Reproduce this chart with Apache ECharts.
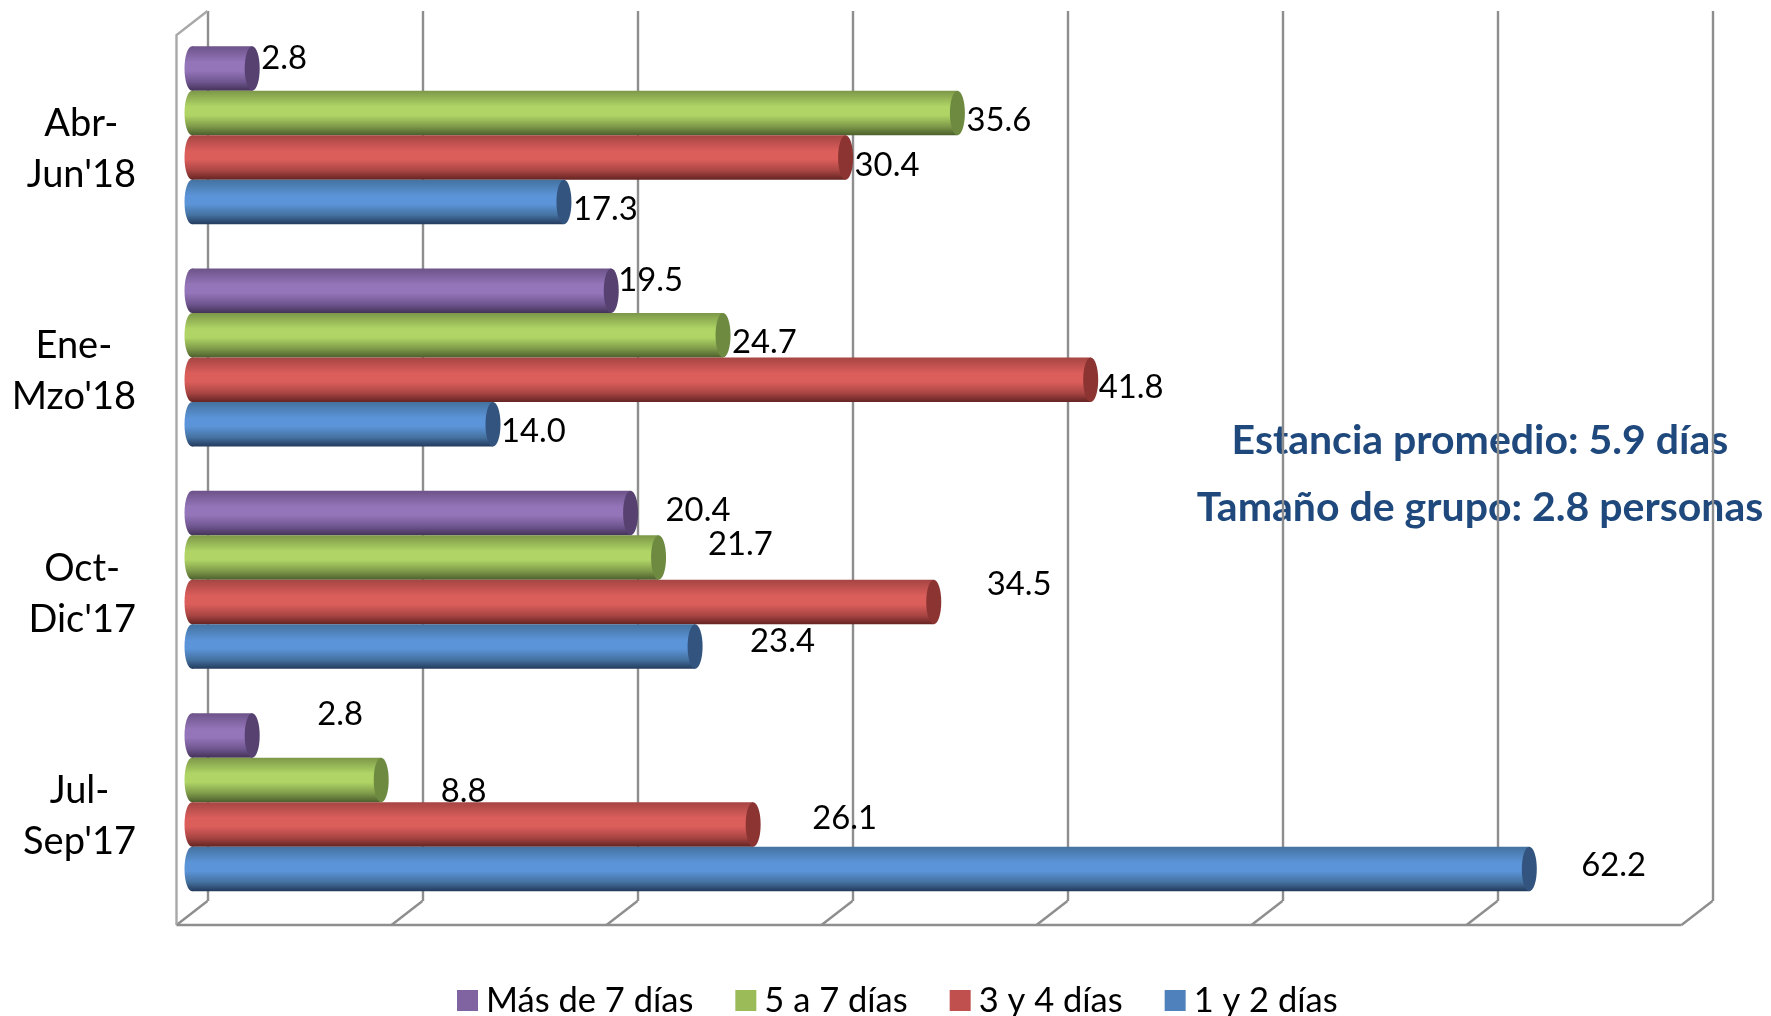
<!DOCTYPE html>
<html><head><meta charset="utf-8">
<style>html,body{margin:0;padding:0;background:#fff}#c{width:1771px;height:1016px}</style>
<script src="https://cdn.jsdelivr.net/npm/echarts@6/dist/echarts.min.js"></script>
</head><body><div id="c"></div>
<script>
const categories = ["Jul-\nSep'17", "Oct-\nDic'17", "Ene-\nMzo'18", "Abr-\nJun'18"];
const seriesNames = ["1 y 2 días", "3 y 4 días", "5 a 7 días", "Más de 7 días"];
const unoY2 = [62.2, 23.4, 14.0, 17.3];
const tresY4 = [26.1, 34.5, 41.8, 30.4];
const cincoA7 = [8.8, 21.7, 24.7, 35.6];
const masDe7 = [2.8, 20.4, 19.5, 2.8];
const tickValues = [0, 10, 20, 30, 40, 50, 60, 70];
const notes = ["Estancia promedio: 5.9 días", "Tamaño de grupo: 2.8 personas"];

// Manual data-label displacement, in pixels [dx, dy], as placed in the source chart
const shiftUno = [[52,-3],[55,-5],[8,7],[9,8]];
const shiftTres = [[59,-6],[53,-18],[8,8],[9,8]];
const shiftCinco = [[59.5,12],[49.5,-13],[9,7],[9,8]];
const shiftMas = [[65,-21],[35,-3],[7,-10],[9,-9.5]];

const FONT = 'Lato';
const BAR = 44.5, RX = 7.5;
const palette = [
  {legend:'#4f81bd', top:'#44729f', mid:'#5b94d8', low:'#44719f', bottom:'#233a5c', cap:'#32547f'},
  {legend:'#c0504d', top:'#a54543', mid:'#db5e5b', low:'#a84543', bottom:'#642422', cap:'#8b3432'},
  {legend:'#9bbb59', top:'#7c9748', mid:'#b0d566', low:'#7f9b4a', bottom:'#4c5f2d', cap:'#6e8a41'},
  {legend:'#8064a2', top:'#6c5389', mid:'#9475b9', low:'#6f5690', bottom:'#443358', cap:'#564171'}
];
const values = [unoY2, tresY4, cincoA7, masDe7];
const shifts = [shiftUno, shiftTres, shiftCinco, shiftMas];

function grad(p){
  return new echarts.graphic.LinearGradient(0,0,0,1,[
    {offset:0,color:p.top},{offset:0.36,color:p.mid},{offset:0.55,color:p.mid},
    {offset:0.8,color:p.low},{offset:1,color:p.bottom}]);
}
const series = [];
series.push({
  type:'custom', name:'frame', xAxisIndex:1, yAxisIndex:1, silent:true, clip:false, z:1,
  data: tickValues.map(v=>[v,0]),
  renderItem(params, api){
    const p = api.coord([api.value(0),0]);
    const back = {x:p[0], y:p[1]}, fx = p[0]-31, fy = p[1]+24;
    const st = {stroke:'#8e8e8e', lineWidth:2.4, fill:null};
    const kids = [{type:'line', shape:{x1:back.x,y1:back.y,x2:fx,y2:fy}, style:st}];
    if(params.dataIndex===0){
      const lt = {stroke:'#a8a8a8', lineWidth:2.4, fill:null};
      kids.push({type:'polyline', shape:{points:[[back.x,11],[fx,35],[fx,fy]]}, style:lt});
      const last = api.coord([tickValues[tickValues.length-1],0]);
      kids.push({type:'line', shape:{x1:fx,y1:fy,x2:last[0]-31,y2:fy}, style:st});
    }
    return {type:'group', children:kids};
  }
});
// rounded base and end caps sit below/above the bar bodies
values.forEach((vals,k)=>{
  series.push({
    type:'custom', name:seriesNames[k]+' base', xAxisIndex:0, yAxisIndex:0, silent:true, clip:false, z:2,
    data: vals.map((v,i)=>[v,i]),
    renderItem(params, api){
      const base = api.coord([0, api.value(1)]);
      const cy = base[1] + (1.5-k)*BAR;
      return {type:'ellipse', shape:{cx:base[0],cy:cy,rx:RX,ry:BAR/2}, style:{fill:grad(palette[k])}};
    }
  });
});
[3,2,1,0].forEach(k=>{
  series.push({
    type:'bar', name:seriesNames[k], xAxisIndex:0, yAxisIndex:0, data:values[k].map((v,i)=>({
      value:v,
      label:{offset:shifts[k][i]}
    })),
    barWidth:BAR, barGap:'0%', z:3,
    itemStyle:{color:grad(palette[k])},
    label:{show:true, position:'right', distance:0, formatter:o=>o.value.toFixed(1),
      fontFamily:FONT, fontSize:32.8, color:'#000'},
    silent:true
  });
});
values.forEach((vals,k)=>{
  series.push({
    type:'custom', name:seriesNames[k]+' cap', xAxisIndex:0, yAxisIndex:0, silent:true, clip:false, z:4,
    data: vals.map((v,i)=>[v,i]),
    renderItem(params, api){
      const end = api.coord([api.value(0), api.value(1)]);
      const cy = end[1] + (1.5-k)*BAR;
      return {type:'ellipse', shape:{cx:end[0],cy:cy,rx:RX,ry:BAR/2}, style:{fill:palette[k].cap}};
    }
  });
});

const chart = echarts.init(document.getElementById('c'), null, {renderer:'canvas'});
chart.setOption({
  animation:false,
  backgroundColor:'#fff',
  grid:[
    {left:192, width:1505, top:24, height:889.3},
    {left:207.5, width:1505, top:11, height:890}
  ],
  xAxis:[
    {type:'value', gridIndex:0, min:0, max:70, interval:10, axisLine:{show:false}, axisTick:{show:false}, axisLabel:{show:false}, splitLine:{show:false}},
    {type:'value', gridIndex:1, min:0, max:70, interval:10, axisLine:{show:false}, axisTick:{show:false}, axisLabel:{show:false},
     splitLine:{show:true, lineStyle:{color:'#8e8e8e', width:2.4}}}
  ],
  yAxis:[
    {type:'category', gridIndex:0, data:categories, axisLine:{show:false}, axisTick:{show:false},
     axisLabel:{margin:56, padding:[28,0,0,0], formatter:s=>s.split('\n').map(t=>'{l|'+t+'}').join('\n'),
       rich:{l:{align:'center', fontFamily:FONT, fontSize:38, color:'#000', lineHeight:51}}}},
    {type:'value', gridIndex:1, min:0, max:1, show:false, splitLine:{show:false}}
  ],
  legend:{
    data:[3,2,1,0].map(k=>({name:seriesNames[k], itemStyle:{color:palette[k].legend}})),
    left:452, top:978, itemWidth:21, itemHeight:21, itemGap:42, icon:'rect',
    textStyle:{fontFamily:FONT, fontSize:34.5, color:'#000', padding:[0,0,0,3]}, selectedMode:false
  },
  graphic:notes.map((t,i)=>({
    type:'text', x:1480, y:i===0?441:508, silent:true,
    style:{text:t, fontFamily:FONT, fontWeight:'bold', fontSize:41, fill:'#1f497d', textAlign:'center', textVerticalAlign:'middle'}
  })),
  series
});
</script></body></html>
